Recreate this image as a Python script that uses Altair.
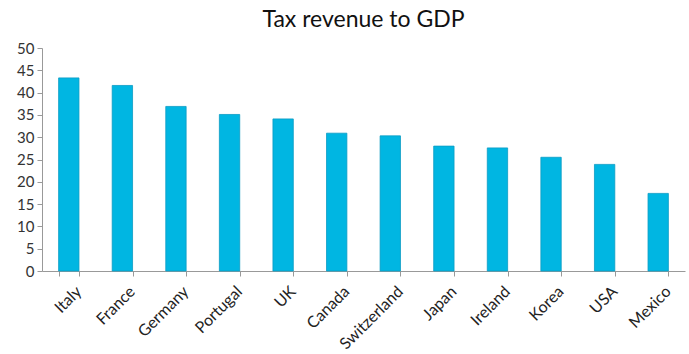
import altair as alt
import pandas as pd

countries = ["Italy", "France", "Germany", "Portugal", "UK", "Canada",
             "Switzerland", "Japan", "Ireland", "Korea", "USA", "Mexico"]
values = [43.3, 41.6, 36.9, 35.1, 34.1, 30.9, 30.3, 28.0, 27.6, 25.5, 23.9, 17.4]

df = pd.DataFrame({"country": countries, "value": values})

FONT = "Lato"

chart = alt.Chart(df).mark_bar(
    color="#00B6E2", stroke="#0A9CC4", strokeWidth=0.8
).encode(
    x=alt.X("country:N", sort=countries, title=None,
            scale=alt.Scale(paddingInner=0.62, paddingOuter=0.31),
            axis=alt.Axis(labelAngle=-45, labelFontSize=16, labelColor="#222",
                          labelFont=FONT, tickBand="extent", domainColor="#999",
                          tickColor="#999", tickSize=5, labelPadding=7,
                          labelOffset=4)),
    y=alt.Y("value:Q", title=None,
            scale=alt.Scale(domain=[0, 50], nice=False),
            axis=alt.Axis(values=list(range(0, 51, 5)), grid=False,
                          labelFontSize=15, labelColor="#333", labelFont=FONT,
                          domainColor="#999", tickColor="#999", tickSize=5,
                          labelPadding=3))
).properties(
    width=643, height=223,
    title=alt.TitleParams("Tax revenue to GDP", fontSize=23, font=FONT,
                          fontWeight="normal", color="#111", anchor="middle",
                          offset=9),
    autosize=alt.AutoSizeParams(type="none"),
    padding={"left": 42, "top": 48, "right": 4, "bottom": 83},
).configure_view(stroke=None)

chart.save("out.html", embed_options={"renderer": "svg", "actions": False})
